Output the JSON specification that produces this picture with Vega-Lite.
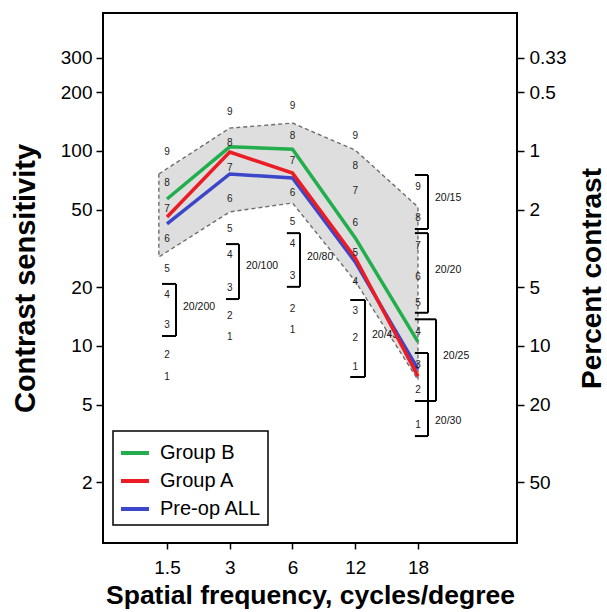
{
  "$schema": "https://vega.github.io/schema/vega-lite/v6.json",
  "width": 414,
  "height": 530,
  "autosize": {"type": "none"},
  "padding": {"left": 103, "top": 13, "right": 90, "bottom": 69},
  "background": "white",
  "config": {
    "font": "Liberation Sans",
    "view": {"stroke": "#000", "strokeWidth": 2},
    "axis": {"domain": false, "grid": false, "tickColor": "#000", "tickWidth": 1.5, "labelColor": "#000", "titleColor": "#000", "labelFont": "Liberation Sans", "titleFont": "Liberation Sans", "labelOverlap": false, "labelFlush": false},
    "legend": {"strokeColor": "#000", "strokeWidth": 1.5, "fillColor": "white", "labelFont": "Liberation Sans", "labelColor": "#000"}
  },
  "datasets": {
    "band": [
      {"x": -0.13, "y": 76.2, "y2": 28.6},
      {"x": 1, "y": 131, "y2": 48.7},
      {"x": 2, "y": 139, "y2": 54.1},
      {"x": 3, "y": 101, "y2": 21.5},
      {"x": 4, "y": 51.6, "y2": 6.7}
    ],
    "edge": [
      {"o": 1, "x": -0.13, "y": 76.2},
      {"o": 2, "x": 1, "y": 131},
      {"o": 3, "x": 2, "y": 139},
      {"o": 4, "x": 3, "y": 101},
      {"o": 5, "x": 4, "y": 51.6},
      {"o": 6, "x": 4, "y": 6.7},
      {"o": 7, "x": 3, "y": 21.5},
      {"o": 8, "x": 2, "y": 54.1},
      {"o": 9, "x": 1, "y": 48.7},
      {"o": 10, "x": -0.13, "y": 28.6},
      {"o": 11, "x": -0.13, "y": 76.2}
    ],
    "lines": [
      {"group": "Pre-op ALL", "x": 0, "y": 42.3},
      {"group": "Pre-op ALL", "x": 1, "y": 76.2},
      {"group": "Pre-op ALL", "x": 2, "y": 72.7},
      {"group": "Pre-op ALL", "x": 3, "y": 27},
      {"group": "Pre-op ALL", "x": 4, "y": 7.6},
      {"group": "Group A", "x": 0, "y": 45.9},
      {"group": "Group A", "x": 1, "y": 98.8},
      {"group": "Group A", "x": 2, "y": 77},
      {"group": "Group A", "x": 3, "y": 28.3},
      {"group": "Group A", "x": 4, "y": 7.0},
      {"group": "Group B", "x": 0, "y": 56.7},
      {"group": "Group B", "x": 1, "y": 105},
      {"group": "Group B", "x": 2, "y": 102},
      {"group": "Group B", "x": 3, "y": 35.8},
      {"group": "Group B", "x": 4, "y": 10.5}
    ],
    "nums": [
      {"x": 0, "n": "9", "y": 98.9}, {"x": 0, "n": "8", "y": 68.5}, {"x": 0, "n": "7", "y": 50.4}, {"x": 0, "n": "6", "y": 35.4}, {"x": 0, "n": "5", "y": 24.8}, {"x": 0, "n": "4", "y": 18.3}, {"x": 0, "n": "3", "y": 12.8}, {"x": 0, "n": "2", "y": 9.0}, {"x": 0, "n": "1", "y": 6.93},
      {"x": 1, "n": "9", "y": 158.5}, {"x": 1, "n": "8", "y": 110}, {"x": 1, "n": "7", "y": 81.8}, {"x": 1, "n": "6", "y": 56.7}, {"x": 1, "n": "5", "y": 39.8}, {"x": 1, "n": "4", "y": 29.3}, {"x": 1, "n": "3", "y": 19.8}, {"x": 1, "n": "2", "y": 14.3}, {"x": 1, "n": "1", "y": 11.1},
      {"x": 2, "n": "9", "y": 170}, {"x": 2, "n": "8", "y": 119}, {"x": 2, "n": "7", "y": 88.9}, {"x": 2, "n": "6", "y": 60.9}, {"x": 2, "n": "5", "y": 43.3}, {"x": 2, "n": "4", "y": 33.3}, {"x": 2, "n": "3", "y": 22.9}, {"x": 2, "n": "2", "y": 15.5}, {"x": 2, "n": "1", "y": 12.1},
      {"x": 3, "n": "9", "y": 119}, {"x": 3, "n": "8", "y": 83.8}, {"x": 3, "n": "7", "y": 62.4}, {"x": 3, "n": "6", "y": 42.7}, {"x": 3, "n": "5", "y": 30}, {"x": 3, "n": "4", "y": 21.3}, {"x": 3, "n": "3", "y": 15.1}, {"x": 3, "n": "2", "y": 11}, {"x": 3, "n": "1", "y": 7.8},
      {"x": 4, "n": "9", "y": 65.4}, {"x": 4, "n": "8", "y": 45.3}, {"x": 4, "n": "7", "y": 32.6}, {"x": 4, "n": "6", "y": 22.6}, {"x": 4, "n": "5", "y": 16.6}, {"x": 4, "n": "4", "y": 11.8}, {"x": 4, "n": "3", "y": 8.0}, {"x": 4, "n": "2", "y": 5.95}, {"x": 4, "n": "1", "y": 3.93}
    ],
    "segs": [
      {"x": -0.08, "x2": 0.143, "y": 20.8, "y2": 20.8}, {"x": 0.143, "x2": 0.143, "y": 20.8, "y2": 11.25}, {"x": -0.08, "x2": 0.143, "y": 11.25, "y2": 11.25},
      {"x": 0.94, "x2": 1.147, "y": 33.3, "y2": 33.3}, {"x": 1.147, "x2": 1.147, "y": 33.3, "y2": 17.4}, {"x": 0.94, "x2": 1.147, "y": 17.4, "y2": 17.4},
      {"x": 1.91, "x2": 2.12, "y": 37.9, "y2": 37.9}, {"x": 2.12, "x2": 2.12, "y": 37.9, "y2": 20.1}, {"x": 1.91, "x2": 2.12, "y": 20.1, "y2": 20.1},
      {"x": 2.92, "x2": 3.155, "y": 17.2, "y2": 17.2}, {"x": 3.155, "x2": 3.155, "y": 17.2, "y2": 6.93}, {"x": 2.92, "x2": 3.155, "y": 6.93, "y2": 6.93},
      {"x": 3.95, "x2": 4.16, "y": 75.3, "y2": 75.3}, {"x": 4.16, "x2": 4.16, "y": 75.3, "y2": 39.8}, {"x": 3.95, "x2": 4.16, "y": 39.8, "y2": 39.8},
      {"x": 3.95, "x2": 4.16, "y": 37.9, "y2": 37.9}, {"x": 4.16, "x2": 4.16, "y": 37.9, "y2": 14.8}, {"x": 3.95, "x2": 4.16, "y": 14.8, "y2": 14.8},
      {"x": 3.95, "x2": 4.287, "y": 13.7, "y2": 13.7}, {"x": 4.287, "x2": 4.287, "y": 13.7, "y2": 5.22}, {"x": 3.95, "x2": 4.287, "y": 5.22, "y2": 5.22},
      {"x": 3.95, "x2": 4.16, "y": 9.2, "y2": 9.2}, {"x": 4.16, "x2": 4.16, "y": 9.2, "y2": 3.45}, {"x": 3.95, "x2": 4.16, "y": 3.45, "y2": 3.45}
    ],
    "blabels": [
      {"t": "20/200", "x": 0.143, "y": 15.8},
      {"t": "20/100", "x": 1.147, "y": 25.7},
      {"t": "20/80", "x": 2.12, "y": 28.6},
      {"t": "20/43", "x": 3.155, "y": 11.4},
      {"t": "20/15", "x": 4.16, "y": 57.4},
      {"t": "20/20", "x": 4.16, "y": 24.5},
      {"t": "20/25", "x": 4.287, "y": 8.89},
      {"t": "20/30", "x": 4.16, "y": 4.12}
    ]
  },
  "layer": [
    {
      "encoding": {
        "x": {"field": "x", "type": "quantitative",
          "scale": {"domain": [-1.02, 5.578], "nice": false, "zero": false},
          "axis": {"values": [0, 1, 2, 3, 4], "labelExpr": "['1.5','3','6','12','18'][datum.value]", "tickSize": 6, "labelFontSize": 19, "labelPadding": 9, "title": "Spatial frequency, cycles/degree", "titleFontSize": 26.5, "titleFontWeight": "bold", "titlePadding": 5}},
        "y": {"field": "y", "type": "quantitative",
          "scale": {"type": "log", "domain": [0.976, 510], "nice": false},
          "axis": {"orient": "left", "values": [2, 5, 10, 20, 50, 100, 200, 300], "format": "d", "tickSize": 7, "labelFontSize": 19, "labelPadding": 4, "title": "Contrast sensitivity", "titleFontSize": 29, "titleFontWeight": "bold", "titlePadding": 20}}
      },
      "layer": [
        {"data": {"name": "band"}, "mark": {"type": "area", "fill": "#dadada", "opacity": 0.9}, "encoding": {"y2": {"field": "y2"}}},
        {"data": {"name": "edge"}, "mark": {"type": "line", "stroke": "#6e6e6e", "strokeWidth": 1.4, "strokeDash": [4, 3]}, "encoding": {"order": {"field": "o", "type": "quantitative"}}},
        {"data": {"name": "segs"}, "mark": {"type": "rule", "stroke": "#000", "strokeWidth": 2}, "encoding": {"x2": {"field": "x2"}, "y2": {"field": "y2"}}},
        {"data": {"name": "blabels"}, "mark": {"type": "text", "align": "left", "baseline": "middle", "dx": 7, "fontSize": 10.5, "color": "#111"}, "encoding": {"text": {"field": "t"}}},
        {"data": {"name": "lines"}, "mark": {"type": "line", "strokeWidth": 3.5},
          "encoding": {"color": {"field": "group", "type": "nominal",
            "scale": {"domain": ["Group B", "Group A", "Pre-op ALL"], "range": ["#22ae4d", "#ec1c24", "#3c46c8"]},
            "legend": {"title": null, "orient": "none", "legendX": 10, "legendY": 418, "symbolType": "stroke", "symbolSize": 784, "symbolStrokeWidth": 4, "labelFontSize": 20, "labelOffset": 9, "padding": 6, "rowPadding": 2}}}},
        {"data": {"name": "nums"}, "mark": {"type": "text", "baseline": "middle", "fontSize": 10, "color": "#222"}, "encoding": {"text": {"field": "n"}}}
      ]
    },
    {
      "data": {"name": "nums"},
      "mark": {"type": "point", "opacity": 0},
      "encoding": {
        "y": {"field": "y", "type": "quantitative",
          "scale": {"type": "log", "domain": [0.976, 510], "nice": false},
          "axis": {"orient": "right", "values": [2, 5, 10, 20, 50, 100, 200, 300], "labelExpr": "datum.value == 300 ? '0.33' : '' + (100 / datum.value)", "tickSize": 7, "labelFontSize": 19, "labelPadding": 5, "title": "Percent contrast", "titleFontSize": 28, "titleFontWeight": "bold", "titleAngle": 270, "titlePadding": 41}}
      }
    }
  ],
  "resolve": {"scale": {"y": "independent"}}
}
